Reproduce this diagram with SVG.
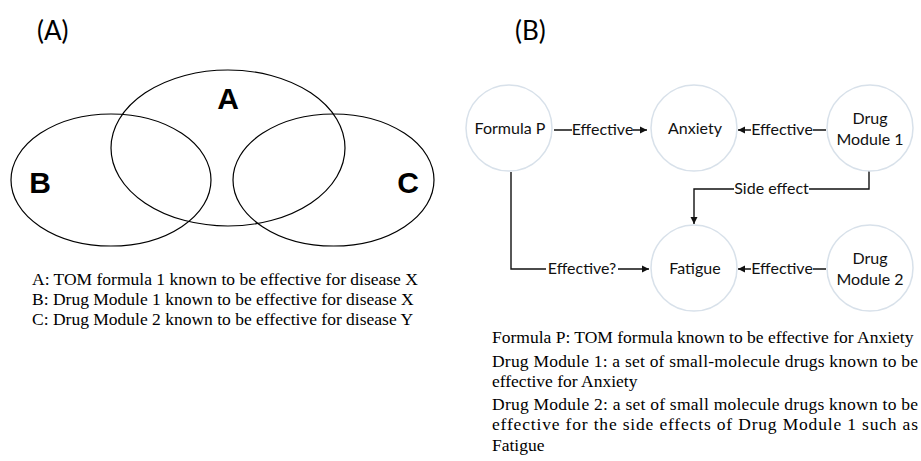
<svg xmlns="http://www.w3.org/2000/svg" width="921" height="461" viewBox="0 0 921 461">
<style>
.venn{fill:none;stroke:#000;stroke-width:1.2}
.vl{font-family:"Liberation Sans",Arial,sans-serif;font-weight:bold;font-size:30px;text-anchor:middle;fill:#000}
.panel{font-family:"Lato","Liberation Sans",sans-serif;font-size:26px;fill:#000}
.leg{font-family:"Liberation Serif","Times New Roman",serif;font-size:17.5px;fill:#000}
.node circle{fill:#fff;stroke:#d8e1ea;stroke-width:1.5}
.nt{font-family:"Lato","Liberation Sans",sans-serif;font-size:16px;text-anchor:middle;fill:#111}
.conn path{fill:none;stroke:#111;stroke-width:1.4}
.lab{font-family:"Lato","Liberation Sans",sans-serif;font-size:16px;text-anchor:middle;fill:#111}
.bg{fill:#fff}
</style>
<defs>
<marker id="arr" markerWidth="8" markerHeight="8" refX="7" refY="4" orient="auto" markerUnits="userSpaceOnUse">
<path d="M0,0.5 L7,4 L0,7.5 Z" fill="#111"/>
</marker>
</defs>
<rect width="921" height="461" fill="#fff"/>

<text class="panel" x="37" y="40">(A)</text>
<text class="panel" x="515" y="40">(B)</text>

<g id="venn">
<ellipse id="setA" class="venn" cx="228" cy="148" rx="117" ry="78"/>
<ellipse id="setB" class="venn" cx="111" cy="180" rx="100" ry="66"/>
<ellipse id="setC" class="venn" cx="333.5" cy="180" rx="100.5" ry="66"/>
<text class="vl" x="228" y="109">A</text>
<text class="vl" x="40" y="193">B</text>
<text class="vl" x="408" y="193">C</text>
</g>

<g id="legendA" class="leg">
<text x="32" y="285">A: TOM formula 1 known to be effective for disease X</text>
<text x="32" y="305">B: Drug Module 1 known to be effective for disease X</text>
<text x="32" y="325">C: Drug Module 2 known to be effective for disease Y</text>
</g>

<g id="connectors" class="conn">
<path d="M554,130 H647" marker-end="url(#arr)"/>
<path d="M826,130 H738" marker-end="url(#arr)"/>
<path d="M869,171 V189 H694 V224" marker-end="url(#arr)"/>
<path d="M511,172 V269 H649" marker-end="url(#arr)"/>
<path d="M826,269 H738" marker-end="url(#arr)"/>
<rect class="bg" x="572" y="120" width="61" height="20"/>
<text class="lab" x="602.5" y="135">Effective</text>
<rect class="bg" x="751" y="120" width="62" height="20"/>
<text class="lab" x="782" y="135">Effective</text>
<rect class="bg" x="734" y="179" width="75" height="20"/>
<text class="lab" x="771.5" y="194">Side effect</text>
<rect class="bg" x="546" y="259" width="72" height="20"/>
<text class="lab" x="582" y="274">Effective?</text>
<rect class="bg" x="751" y="259" width="62" height="20"/>
<text class="lab" x="782" y="274">Effective</text>
</g>

<g id="formulaP" class="node">
<circle cx="509" cy="128" r="43"/>
<text class="nt" x="510" y="134">Formula P</text>
</g>
<g id="anxiety" class="node">
<circle cx="694" cy="128" r="43"/>
<text class="nt" x="695" y="134">Anxiety</text>
</g>
<g id="drugModule1" class="node">
<circle cx="870" cy="128" r="43"/>
<text class="nt" x="870" y="124">Drug</text>
<text class="nt" x="870" y="145">Module 1</text>
</g>
<g id="fatigue" class="node">
<circle cx="694" cy="268" r="43"/>
<text class="nt" x="695" y="274">Fatigue</text>
</g>
<g id="drugModule2" class="node">
<circle cx="870" cy="268" r="43"/>
<text class="nt" x="870" y="264">Drug</text>
<text class="nt" x="870" y="285">Module 2</text>
</g>

<g id="legendB" class="leg">
<text x="492" y="343">Formula P: TOM formula known to be effective for Anxiety</text>
<text x="492" y="367" textLength="426" lengthAdjust="spacing">Drug Module 1: a set of small-molecule drugs known to be</text>
<text x="492" y="387">effective for Anxiety</text>
<text x="492" y="410" textLength="426" lengthAdjust="spacing">Drug Module 2: a set of small molecule drugs known to be</text>
<text x="492" y="430" textLength="426" lengthAdjust="spacing">effective for the side effects of Drug Module 1 such as</text>
<text x="492" y="451">Fatigue</text>
</g>
</svg>
